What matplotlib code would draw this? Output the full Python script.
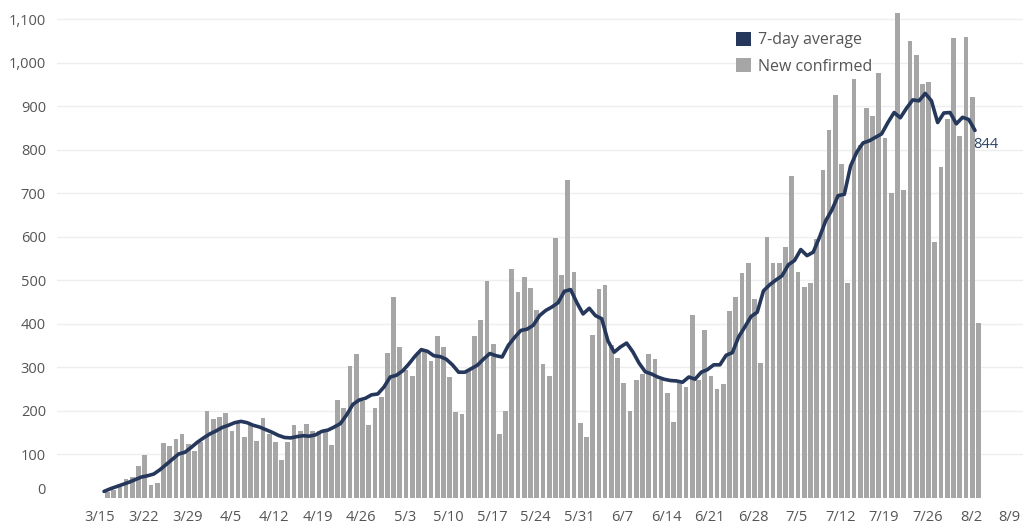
import matplotlib
matplotlib.use('Agg')
import matplotlib.pyplot as plt
from matplotlib.patches import Patch
from matplotlib.transforms import ScaledTranslation
import numpy as np

# ---------------- data ----------------
tick_labels = ['3/15', '3/22', '3/29', '4/5', '4/12', '4/19', '4/26', '5/3',
               '5/10', '5/17', '5/24', '5/31', '6/7', '6/14', '6/21', '6/28',
               '7/5', '7/12', '7/19', '7/26', '8/2', '8/9']

# daily new confirmed cases, one value per day starting the day after 3/15
new_confirmed = [
    12, 17, 24, 43, 47, 73, 97, 28, 33, 125, 119, 135, 147, 122, 108, 128, 198, 180, 186, 195,
    153, 172, 139, 166, 130, 183, 145, 127, 87, 128, 166, 153, 169, 153, 153, 150, 120, 225, 206, 303, 330, 221,
    166, 206, 231, 333, 460, 345, 292, 280, 335, 336, 313, 371, 347, 278, 197, 191, 290, 371, 408,
    498, 354, 145, 198, 525, 472, 508, 481, 430, 306, 279, 597, 511, 729, 519, 171, 138, 373, 480, 489, 350,
    321, 264, 200, 269, 285, 329, 318, 270, 240, 173, 265, 254, 420, 270, 384, 279, 249, 261, 428,
    462, 516, 538, 456, 310, 598, 538, 538, 577, 738, 519, 483, 492, 594, 753, 844, 926, 767, 492, 963, 810,
    896, 878, 975, 827, 701, 1114, 708, 1050, 1017, 950, 955, 588, 760, 869, 1057, 831, 1059, 920, 402,
]

# 7-day average line, one value per day
avg_7day = [
    14, 20, 25, 30, 35, 41, 47, 50, 54, 64, 76, 88, 100, 104, 115, 127, 137, 146, 153, 161,
    166, 172, 175, 172, 166, 162, 156, 150, 143, 138, 137, 140, 142, 141, 144, 152, 155, 162, 170, 190, 214, 224,
    228, 236, 238, 254, 277, 281, 291, 307, 325, 340, 336, 326, 324, 318, 305, 288, 288, 296, 304,
    318, 331, 326, 323, 350, 368, 384, 387, 396, 418, 430, 438, 448, 474, 478, 448, 422, 435, 418, 411, 360,
    334, 346, 355, 335, 309, 289, 284, 277, 272, 269, 268, 265, 277, 272, 288, 294, 305, 305, 327,
    333, 369, 392, 416, 426, 475, 489, 500, 510, 535, 545, 570, 556, 564, 598, 636, 661, 694, 697, 762, 794,
    815, 820, 828, 836, 862, 885, 873, 895, 914, 912, 929, 912, 862, 884, 885, 859, 874, 869, 844,
]

y_ticks = [0, 100, 200, 300, 400, 500, 600, 700, 800, 900, 1000, 1100]
y_tick_labels = ['0', '100', '200', '300', '400', '500', '600', '700', '800',
                 '900', '1,000', '1,100']

legend_labels = ['7-day average', 'New confirmed']

# ---------------- style ----------------
BAR_COLOR = '#a6a6a6'
LINE_COLOR = '#25375a'
TEXT_COLOR = '#555555'
GRID_COLOR = '#eeeeee'
ANNOT_COLOR = '#2e4566'
FS = 10.5
LEG_FS = 11.5

plt.rcParams['font.family'] = ['Open Sans', 'DejaVu Sans']

W, H = 1023, 525
fig = plt.figure(figsize=(W / 100, H / 100), dpi=100)
ax = fig.add_axes([57 / W, 27.5 / H, 966 / W, 497.5 / H])

days = np.arange(1, len(new_confirmed) + 1)
BAR_SHIFT = 0.2
LINE_SHIFT = -0.35

ax.bar(days + BAR_SHIFT, new_confirmed, width=0.76, color=BAR_COLOR,
       zorder=2, clip_on=False)
ax.plot(days + LINE_SHIFT, avg_7day, color=LINE_COLOR, lw=2.6, zorder=3,
        solid_capstyle='round', solid_joinstyle='round')

ax.set_xlim(-6.91, 148.37)
ax.set_ylim(0, 1143.7)

ax.set_xticks(np.arange(0, 7 * len(tick_labels), 7))
ax.set_xticklabels(tick_labels)
ax.set_yticks(y_ticks)
ax.set_yticklabels(y_tick_labels)

ax.tick_params(axis='both', length=0, labelsize=FS, labelcolor=TEXT_COLOR)
ax.tick_params(axis='y', pad=8)
ax.tick_params(axis='x', pad=9)

for s in ax.spines.values():
    s.set_visible(False)

ax.yaxis.grid(True, color=GRID_COLOR, lw=1.0, zorder=0)
ax.set_axisbelow(True)
ax.yaxis.get_gridlines()[0].set_visible(False)

# lift the "0" label a bit, as in the reference
zero_lbl = ax.get_yticklabels()[0]
zero_lbl.set_transform(zero_lbl.get_transform() +
                       ScaledTranslation(0, 9 / 100, fig.dpi_scale_trans))
# keep the last date label inside the canvas
last_lbl = ax.get_xticklabels()[-1]
last_lbl.set_transform(last_lbl.get_transform() +
                       ScaledTranslation(-5 / 100, 0, fig.dpi_scale_trans))

# legend
handles = [Patch(facecolor=LINE_COLOR, edgecolor='none'),
           Patch(facecolor=BAR_COLOR, edgecolor='none')]
leg = ax.legend(handles, legend_labels, loc='upper left',
                bbox_to_anchor=(735.7 / W, 1 - 32 / H),
                bbox_transform=fig.transFigure, frameon=True,
                fontsize=LEG_FS, handlelength=0.95, handleheight=0.95,
                handletextpad=0.45, labelspacing=0.62, borderpad=0.0,
                borderaxespad=0.0)
leg.get_frame().set_facecolor('white')
leg.get_frame().set_edgecolor('none')
for t in leg.get_texts():
    t.set_color(TEXT_COLOR)

# last value annotation
ax.annotate(str(avg_7day[-1]), xy=(days[-1] + LINE_SHIFT, avg_7day[-1]),
            xytext=(-1, -10), textcoords='offset points', ha='left',
            va='center', color=ANNOT_COLOR, fontsize=FS)

fig.savefig('out.png', dpi=100)
